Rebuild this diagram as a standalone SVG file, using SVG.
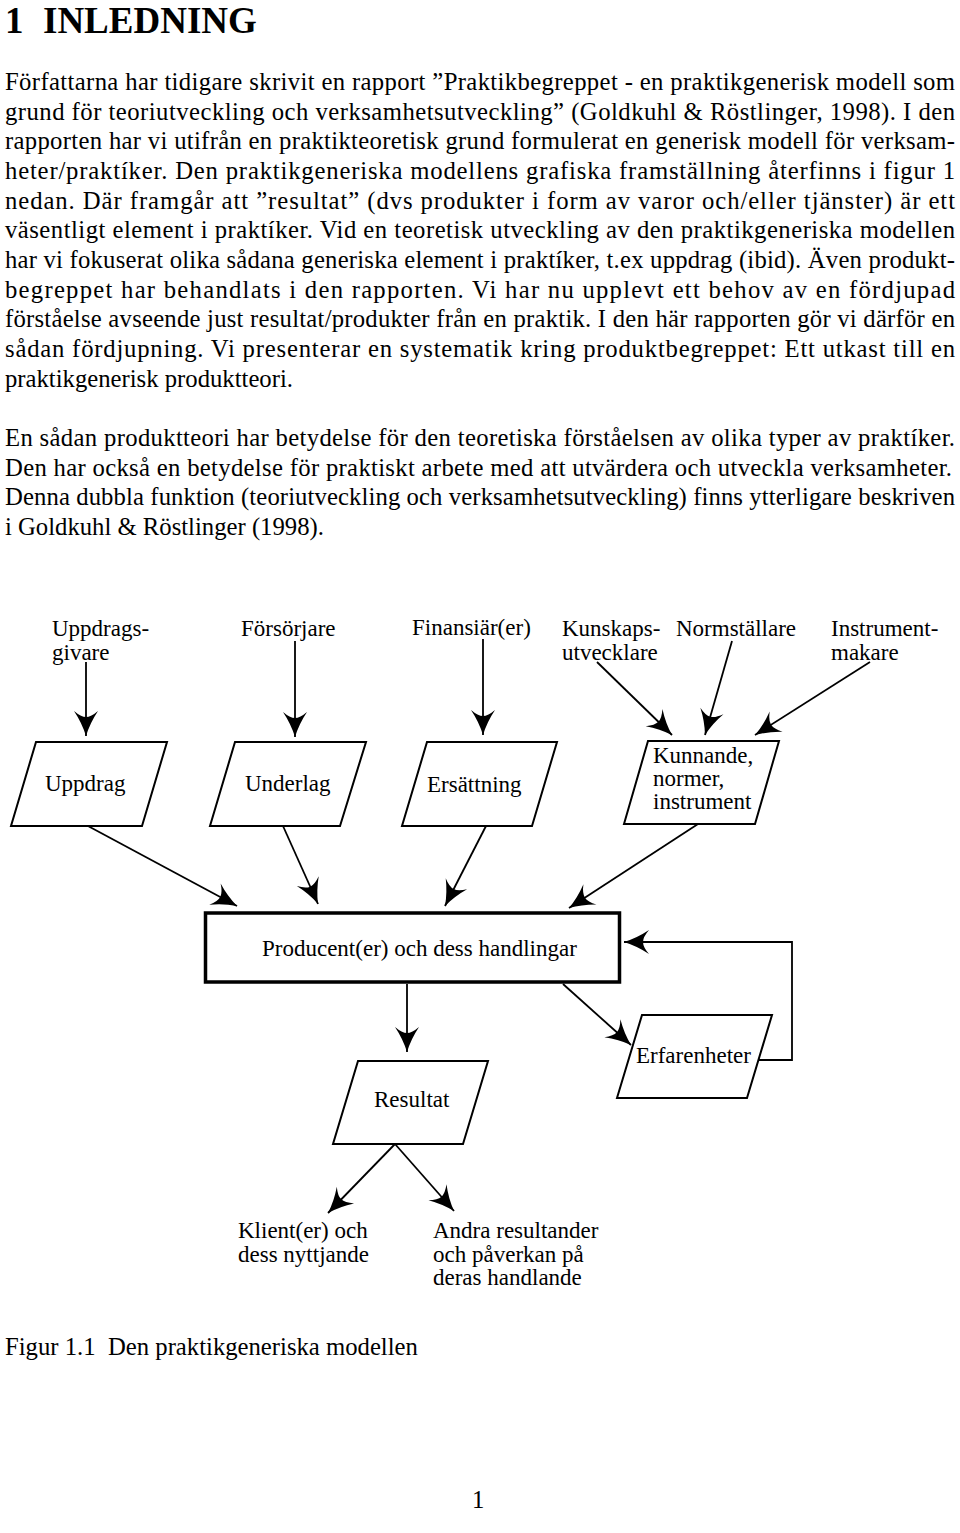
<svg xmlns="http://www.w3.org/2000/svg" width="960" height="1533" viewBox="0 0 960 1533">
<style>
  .body { font-family: "Liberation Serif", "Times New Roman", serif; font-size: 24.7px; fill: #000; }
  .head { font-family: "Liberation Serif", "Times New Roman", serif; font-size: 37px; font-weight: bold; fill: #000; }
  .lbl { font-family: "Liberation Serif", "Times New Roman", serif; font-size: 23px; fill: #000; }
  .shape { fill: #fff; stroke: #000; stroke-width: 2; }
  .box { fill: #fff; stroke: #000; stroke-width: 3.5; }
  .conn { fill: none; stroke: #000; stroke-width: 1.8; }
  .arr { marker-end: url(#ah); }
</style>
<defs>
  <marker id="ah" viewBox="-26 -13 27 26" refX="0" refY="0" markerWidth="27" markerHeight="26" markerUnits="userSpaceOnUse" orient="auto">
    <path d="M0,0 Q-13,-4 -25,-12 Q-19,-5 -19,0 Q-19,5 -25,12 Q-13,4 0,0 Z" fill="#000"/>
  </marker>
</defs>
<rect x="0" y="0" width="960" height="1533" fill="#fff"/>

<g id="heading">
  <text class="head" x="5" y="33">1</text>
  <text class="head" x="43" y="33">INLEDNING</text>
</g>

<g id="paragraph1">
  <text class="body" x="5" y="90" textLength="950" lengthAdjust="spacing">Författarna har tidigare skrivit en rapport ”Praktikbegreppet - en praktikgenerisk modell som</text>
  <text class="body" x="5" y="119.7" textLength="950" lengthAdjust="spacing">grund för teoriutveckling och verksamhetsutveckling” (Goldkuhl &amp; Röstlinger, 1998). I den</text>
  <text class="body" x="5" y="149.4" textLength="950" lengthAdjust="spacing">rapporten har vi utifrån en praktikteoretisk grund formulerat en generisk modell för verksam-</text>
  <text class="body" x="5" y="179" textLength="950" lengthAdjust="spacing">heter/praktíker. Den praktikgeneriska modellens grafiska framställning återfinns i figur 1</text>
  <text class="body" x="5" y="208.7" textLength="950" lengthAdjust="spacing">nedan. Där framgår att ”resultat” (dvs produkter i form av varor och/eller tjänster) är ett</text>
  <text class="body" x="5" y="238.4" textLength="950" lengthAdjust="spacing">väsentligt element i praktíker. Vid en teoretisk utveckling av den praktikgeneriska modellen</text>
  <text class="body" x="5" y="268" textLength="950" lengthAdjust="spacing">har vi fokuserat olika sådana generiska element i praktíker, t.ex uppdrag (ibid). Även produkt-</text>
  <text class="body" x="5" y="297.7" textLength="950" lengthAdjust="spacing">begreppet har behandlats i den rapporten. Vi har nu upplevt ett behov av en fördjupad</text>
  <text class="body" x="5" y="327.4" textLength="950" lengthAdjust="spacing">förståelse avseende just resultat/produkter från en praktik. I den här rapporten gör vi därför en</text>
  <text class="body" x="5" y="357" textLength="950" lengthAdjust="spacing">sådan fördjupning. Vi presenterar en systematik kring produktbegreppet: Ett utkast till en</text>
  <text class="body" x="5" y="386.8">praktikgenerisk produktteori.</text>
</g>

<g id="paragraph2">
  <text class="body" x="5" y="446" textLength="950" lengthAdjust="spacing">En sådan produktteori har betydelse för den teoretiska förståelsen av olika typer av praktíker.</text>
  <text class="body" x="5" y="475.7" textLength="947" lengthAdjust="spacing">Den har också en betydelse för praktiskt arbete med att utvärdera och utveckla verksamheter.</text>
  <text class="body" x="5" y="505.4" textLength="950" lengthAdjust="spacing">Denna dubbla funktion (teoriutveckling och verksamhetsutveckling) finns ytterligare beskriven</text>
  <text class="body" x="5" y="535">i Goldkuhl &amp; Röstlinger (1998).</text>
</g>

<g id="connectors">
  <line class="conn arr" x1="86" y1="662" x2="86" y2="736"/>
  <line class="conn arr" x1="295" y1="641" x2="295" y2="737"/>
  <line class="conn arr" x1="483" y1="639" x2="483" y2="735"/>
  <line class="conn arr" x1="597" y1="662" x2="672" y2="735"/>
  <line class="conn arr" x1="732" y1="641" x2="705" y2="735"/>
  <line class="conn arr" x1="870" y1="662" x2="755" y2="735"/>
  <line class="conn arr" x1="88" y1="826" x2="237" y2="906"/>
  <line class="conn arr" x1="283" y1="826" x2="318" y2="904"/>
  <line class="conn arr" x1="486" y1="826" x2="445" y2="906"/>
  <line class="conn arr" x1="698" y1="824" x2="569" y2="908"/>
  <line class="conn arr" x1="407" y1="984" x2="407" y2="1052"/>
  <line class="conn arr" x1="563" y1="984" x2="631" y2="1045"/>
  <polyline class="conn arr" points="759,1060 792,1060 792,942 624,942"/>
  <line class="conn arr" x1="395" y1="1144" x2="328" y2="1213"/>
  <line class="conn arr" x1="395" y1="1144" x2="454" y2="1211"/>
</g>

<g id="uppdragsgivare">
  <text class="lbl" x="52" y="636">Uppdrags-</text>
  <text class="lbl" x="52" y="660">givare</text>
</g>
<g id="forsorjare">
  <text class="lbl" x="241" y="636">Försörjare</text>
</g>
<g id="finansiarer">
  <text class="lbl" x="412" y="635">Finansiär(er)</text>
</g>
<g id="kunskapsutvecklare">
  <text class="lbl" x="562" y="636">Kunskaps-</text>
  <text class="lbl" x="562" y="660">utvecklare</text>
</g>
<g id="normstallare">
  <text class="lbl" x="676" y="636">Normställare</text>
</g>
<g id="instrumentmakare">
  <text class="lbl" x="831" y="636">Instrument-</text>
  <text class="lbl" x="831" y="660">makare</text>
</g>

<g id="uppdrag">
  <polygon class="shape" points="36,742 167,742 142,826 11,826"/>
  <text class="lbl" x="45" y="791">Uppdrag</text>
</g>
<g id="underlag">
  <polygon class="shape" points="235,742 366,742 340,826 210,826"/>
  <text class="lbl" x="245" y="791">Underlag</text>
</g>
<g id="ersattning">
  <polygon class="shape" points="427,742 557,742 532,826 402,826"/>
  <text class="lbl" x="427" y="792">Ersättning</text>
</g>
<g id="kunnande">
  <polygon class="shape" points="648,741 779,741 755,824 624,824"/>
  <text class="lbl" x="653" y="763">Kunnande,</text>
  <text class="lbl" x="653" y="786">normer,</text>
  <text class="lbl" x="653" y="809">instrument</text>
</g>

<g id="producent">
  <rect class="box" x="205.5" y="913" width="414" height="69"/>
  <text class="lbl" x="262" y="956">Producent(er) och dess handlingar</text>
</g>

<g id="erfarenheter">
  <polygon class="shape" points="642,1015 772,1015 747,1098 617,1098"/>
  <text class="lbl" x="636" y="1063">Erfarenheter</text>
</g>

<g id="resultat">
  <polygon class="shape" points="358,1061 488,1061 463,1144 333,1144"/>
  <text class="lbl" x="374" y="1107">Resultat</text>
</g>

<g id="klienter">
  <text class="lbl" x="238" y="1238">Klient(er) och</text>
  <text class="lbl" x="238" y="1262">dess nyttjande</text>
</g>
<g id="andra">
  <text class="lbl" x="433" y="1238">Andra resultander</text>
  <text class="lbl" x="433" y="1262">och påverkan på</text>
  <text class="lbl" x="433" y="1285">deras handlande</text>
</g>

<g id="caption">
  <text class="body" x="5" y="1355">Figur 1.1<tspan x="108">Den praktikgeneriska modellen</tspan></text>
  <text class="body" x="472" y="1508">1</text>
</g>
</svg>
